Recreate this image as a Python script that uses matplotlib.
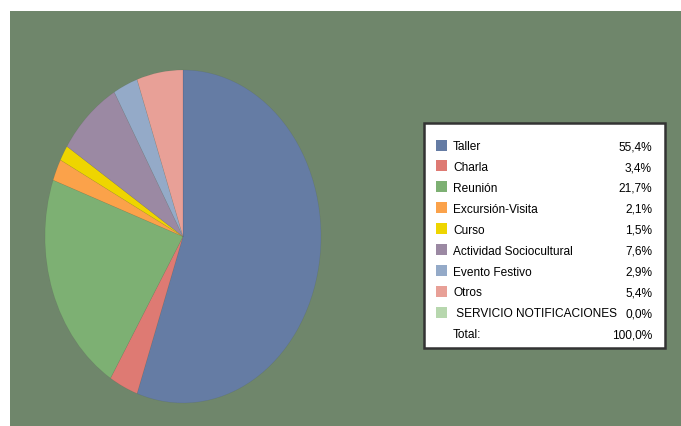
import matplotlib
matplotlib.use("Agg")
import matplotlib.pyplot as plt
from matplotlib import font_manager
from matplotlib.patches import Rectangle

# data
labels = ["Taller", "Charla", "Reunión", "Excursión-Visita", "Curso",
          "Actividad Sociocultural", "Evento Festivo", "Otros",
          " SERVICIO NOTIFICACIONES"]
values = [55.4, 3.4, 21.7, 2.1, 1.5, 7.6, 2.9, 5.4, 0.0]
pct_labels = ["55,4%", "3,4%", "21,7%", "2,1%", "1,5%", "7,6%", "2,9%", "5,4%", "0,0%"]
total_label = "100,0%"
colors = ["#657ca4", "#de7a73", "#7db073", "#fba24a", "#eed500",
          "#9b89a3", "#94aac8", "#e8a097", "#b7d7ae"]

# narrow font if we have it
names = {f.name for f in font_manager.fontManager.ttflist}
if "Liberation Sans Narrow" in names:
    fam, fs = "Liberation Sans Narrow", 9.6
else:
    fam, fs = "Liberation Sans", 8.6

W, H = 681, 427
fig = plt.figure(figsize=(W / 100, H / 100), dpi=100)
fig.patch.set_facecolor("white")

# overlay in pixel coords (y down)
bg = fig.add_axes([0, 0, 1, 1])
bg.set_xlim(0, W)
bg.set_ylim(H, 0)
bg.axis("off")
bg.add_patch(Rectangle((10, 12), W - 10, H - 12, facecolor="#6f866b", edgecolor="none"))

# elliptical pie
cx, cy, rx, ry = 183, 237.5, 138, 166.5
ax = fig.add_axes([(cx - rx) / W, (H - cy - ry) / H, 2 * rx / W, 2 * ry / H])
ax.pie(values, colors=colors, startangle=90, counterclock=False,
       wedgeprops=dict(linewidth=0.4, edgecolor=(0, 0, 0, 0.07)))
ax.set_aspect("auto")
ax.set_xlim(-1, 1)
ax.set_ylim(-1, 1)
ax.axis("off")

# legend box
bx0, by0, bx1, by1 = 424, 124, 665, 349
bg.add_patch(Rectangle((bx0, by0), bx1 - bx0, by1 - by0, facecolor="white",
                       edgecolor="#333333", linewidth=1.8, zorder=3))
row0, step, base = 146, 20.9, 4.2
for i, (lab, pct, col) in enumerate(zip(labels, pct_labels, colors)):
    y = row0 + i * step
    bg.add_patch(Rectangle((436, y - 5.5), 11, 11, facecolor=col, edgecolor="none", zorder=4))
    bg.text(453, y + base, lab, fontsize=fs, family=fam, va="baseline", ha="left", color="black", zorder=5)
    bg.text(652, y + base, pct, fontsize=fs, family=fam, va="baseline", ha="right", color="black", zorder=5)
y = row0 + len(labels) * step
bg.text(453, y + base, "Total:", fontsize=fs, family=fam, va="baseline", ha="left", color="black", zorder=5)
bg.text(652, y + base, total_label, fontsize=fs, family=fam, va="baseline", ha="right", color="black", zorder=5)

fig.savefig("out.png", dpi=100, facecolor=fig.get_facecolor())
